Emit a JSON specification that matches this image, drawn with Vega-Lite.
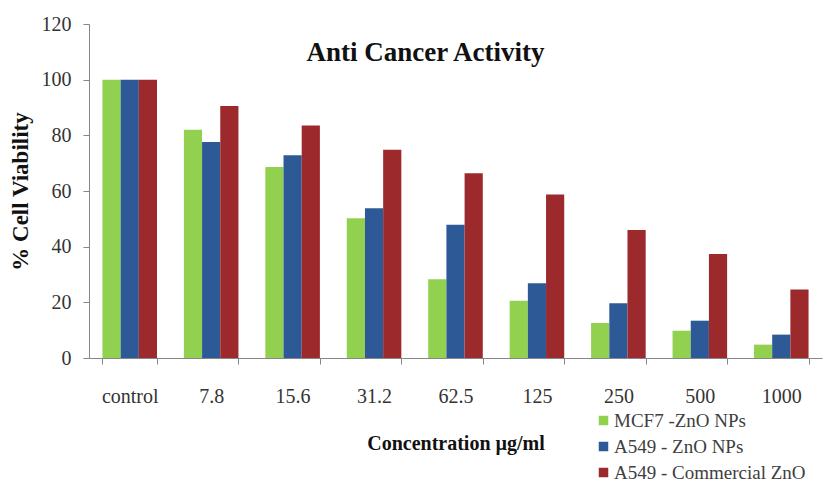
{
  "$schema": "https://vega.github.io/schema/vega-lite/v6.json",
  "width": 733,
  "height": 334,
  "autosize": {"type": "none"},
  "padding": {"left": 89, "top": 24, "right": 7, "bottom": 124},
  "background": "white",
  "title": {
    "text": "Anti Cancer Activity",
    "font": "Liberation Serif",
    "fontSize": 27,
    "fontWeight": "bold",
    "color": "#111111",
    "anchor": "middle",
    "baseline": "alphabetic",
    "offset": -74,
    "dx": -30
  },
  "data": {
    "values": [
      {"conc": "control", "series": "MCF7 -ZnO NPs", "value": 100},
      {"conc": "control", "series": "A549 - ZnO NPs", "value": 100},
      {"conc": "control", "series": "A549 - Commercial ZnO", "value": 100},
      {"conc": "7.8", "series": "MCF7 -ZnO NPs", "value": 82},
      {"conc": "7.8", "series": "A549 - ZnO NPs", "value": 77.6},
      {"conc": "7.8", "series": "A549 - Commercial ZnO", "value": 90.5},
      {"conc": "15.6", "series": "MCF7 -ZnO NPs", "value": 68.6},
      {"conc": "15.6", "series": "A549 - ZnO NPs", "value": 72.8},
      {"conc": "15.6", "series": "A549 - Commercial ZnO", "value": 83.5},
      {"conc": "31.2", "series": "MCF7 -ZnO NPs", "value": 50.2},
      {"conc": "31.2", "series": "A549 - ZnO NPs", "value": 53.8},
      {"conc": "31.2", "series": "A549 - Commercial ZnO", "value": 74.8},
      {"conc": "62.5", "series": "MCF7 -ZnO NPs", "value": 28.3},
      {"conc": "62.5", "series": "A549 - ZnO NPs", "value": 47.9},
      {"conc": "62.5", "series": "A549 - Commercial ZnO", "value": 66.4},
      {"conc": "125", "series": "MCF7 -ZnO NPs", "value": 20.6},
      {"conc": "125", "series": "A549 - ZnO NPs", "value": 26.9},
      {"conc": "125", "series": "A549 - Commercial ZnO", "value": 58.7},
      {"conc": "250", "series": "MCF7 -ZnO NPs", "value": 12.6},
      {"conc": "250", "series": "A549 - ZnO NPs", "value": 19.7},
      {"conc": "250", "series": "A549 - Commercial ZnO", "value": 46},
      {"conc": "500", "series": "MCF7 -ZnO NPs", "value": 9.8},
      {"conc": "500", "series": "A549 - ZnO NPs", "value": 13.4},
      {"conc": "500", "series": "A549 - Commercial ZnO", "value": 37.4},
      {"conc": "1000", "series": "MCF7 -ZnO NPs", "value": 4.8},
      {"conc": "1000", "series": "A549 - ZnO NPs", "value": 8.4},
      {"conc": "1000", "series": "A549 - Commercial ZnO", "value": 24.6}
    ]
  },
  "mark": {"type": "bar"},
  "encoding": {
    "x": {
      "field": "conc",
      "type": "nominal",
      "sort": ["control", "7.8", "15.6", "31.2", "62.5", "125", "250", "500", "1000"],
      "scale": {"paddingInner": 0.33, "paddingOuter": 0.165},
      "axis": {
        "title": "Concentration µg/ml",
        "labelAngle": 0,
        "tickBand": "extent",
        "labelPadding": 22,
        "titlePadding": 27
      }
    },
    "xOffset": {
      "field": "series",
      "sort": ["MCF7 -ZnO NPs", "A549 - ZnO NPs", "A549 - Commercial ZnO"],
      "scale": {"paddingInner": 0, "paddingOuter": 0}
    },
    "y": {
      "field": "value",
      "type": "quantitative",
      "scale": {"domain": [0, 120]},
      "axis": {
        "title": "% Cell Viability",
        "titleFontSize": 23,
        "values": [0, 20, 40, 60, 80, 100, 120],
        "labelPadding": 12,
        "titlePadding": 9
      }
    },
    "color": {
      "field": "series",
      "type": "nominal",
      "sort": ["MCF7 -ZnO NPs", "A549 - ZnO NPs", "A549 - Commercial ZnO"],
      "scale": {
        "domain": ["MCF7 -ZnO NPs", "A549 - ZnO NPs", "A549 - Commercial ZnO"],
        "range": ["#92D050", "#2D5A96", "#9C2A2D"]
      },
      "legend": {
        "title": null,
        "orient": "none",
        "legendX": 505,
        "legendY": 387,
        "symbolType": "square",
        "symbolSize": 90,
        "symbolStrokeWidth": 0,
        "labelFont": "Liberation Serif",
        "labelFontSize": 19,
        "labelColor": "#404040",
        "labelLimit": 0,
        "rowPadding": 6,
        "labelOffset": 1,
        "padding": 0
      }
    }
  },
  "config": {
    "view": {"stroke": null},
    "axis": {
      "labelFont": "Liberation Serif",
      "labelFontSize": 20,
      "labelColor": "#333333",
      "titleFont": "Liberation Serif",
      "titleFontSize": 20,
      "titleFontWeight": "bold",
      "titleColor": "#111111",
      "domainColor": "#868686",
      "tickColor": "#868686",
      "tickSize": 6,
      "grid": false
    }
  }
}
